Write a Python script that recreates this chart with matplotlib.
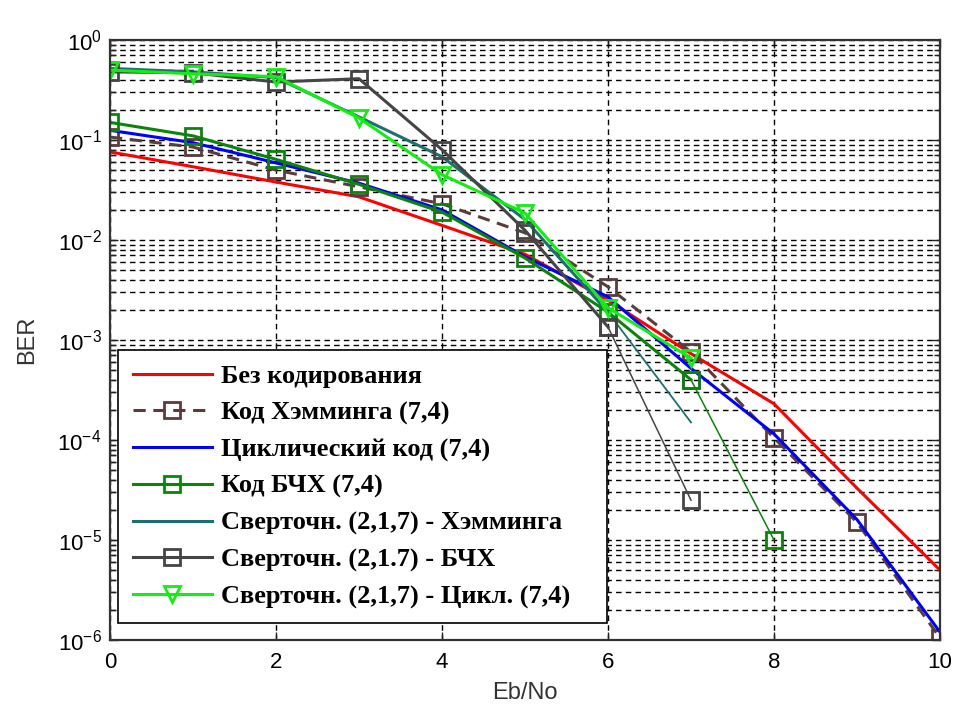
import numpy as np
import matplotlib
matplotlib.use("Agg")
import matplotlib.pyplot as plt
from matplotlib.ticker import LogLocator, FixedLocator, NullFormatter

plt.rcParams['font.family'] = ['Liberation Sans', 'DejaVu Sans']
plt.rcParams['mathtext.fontset'] = 'custom'
plt.rcParams['mathtext.rm'] = 'Liberation Sans'
plt.rcParams['mathtext.it'] = 'Liberation Sans'

# ---- data ----
snr = [0, 1, 2, 3, 4, 5, 6, 7, 8, 9, 10]

ber_uncoded = [0.076, 0.054, 0.038, 0.027, 0.014, 0.0072, 0.0025, 7.3e-4, 2.3e-4, 3.3e-5, 5.0e-6]
ber_hamming = [0.107, 0.085, 0.050, 0.034, 0.023, 0.0118, 0.0034, 7.6e-4, 1.05e-4, 1.5e-5, 1.05e-6]
ber_cyclic = [0.125, 0.094, 0.059, 0.037, 0.020, 0.0068, 0.0027, 5.2e-4, 1.15e-4, 1.6e-5, 1.2e-6]

snr_bch = [0, 1, 2, 3, 4, 5, 6, 7, 8]
ber_bch = [0.150, 0.110, 0.064, 0.036, 0.019, 0.0066, 0.0019, 4.0e-4, 1.0e-5]

snr_conv = [0, 1, 2, 3, 4, 5, 6, 7]
ber_conv_hamming = [0.52, 0.48, 0.42, 0.17, 0.068, 0.016, 0.0019, 1.5e-4]
ber_conv_bch = [0.48, 0.47, 0.38, 0.41, 0.080, 0.0125, 0.00135, 2.5e-5]
ber_conv_cyclic = [0.50, 0.46, 0.43, 0.166, 0.045, 0.0186, 0.0021, 6.6e-4]

labels = ["Без кодирования", "Код Хэмминга (7,4)", "Циклический код (7,4)",
          "Код БЧХ (7,4)", "Сверточн. (2,1,7) - Хэмминга",
          "Сверточн. (2,1.7) - БЧХ", "Сверточн. (2,1,7) - Цикл. (7,4)"]

xticks = [0, 2, 4, 6, 8, 10]
yticks = [1e0, 1e-1, 1e-2, 1e-3, 1e-4, 1e-5, 1e-6]
ytick_labels = ["$10^{0}$", "$10^{-1}$", "$10^{-2}$", "$10^{-3}$", "$10^{-4}$", "$10^{-5}$", "$10^{-6}$"]

# ---- figure ----
fig = plt.figure(figsize=(9.54, 7.09), dpi=100)
ax = fig.add_axes([110/954, 69/709, 830/954, 600/709])

c_red = '#ff0000'
c_brown = '#5a3c3c'
c_blue = '#0000ff'
c_green = '#0a850a'
c_teal = '#1d7070'
c_gray = '#454545'
c_lime = '#11ee11'

lw = 2.2
ms = 11

h1, = ax.semilogy(snr, ber_uncoded, '-', color=c_red, lw=lw, label=labels[0])
h2, = ax.semilogy(snr, ber_hamming, '--', color=c_brown, lw=lw, marker='s', ms=ms,
                  mfc='none', mew=2, dashes=(4, 2.5), label=labels[1])
h3, = ax.semilogy(snr, ber_cyclic, '-', color=c_blue, lw=lw, label=labels[2])

# BCH: thick up to 7 dB, thin tail
h4, = ax.semilogy(snr_bch[:8], ber_bch[:8], '-', color=c_green, lw=lw, marker='s', ms=ms,
                  mfc='none', mew=2, label=labels[3])
ax.semilogy(snr_bch[7:], ber_bch[7:], '-', color=c_green, lw=1.1, marker='s', ms=ms,
            mfc='none', mew=2)

h5, = ax.semilogy(snr_conv[:7], ber_conv_hamming[:7], '-', color=c_teal, lw=lw, label=labels[4])
ax.semilogy(snr_conv[6:], ber_conv_hamming[6:], '-', color=c_teal, lw=1.3)

h6, = ax.semilogy(snr_conv[:7], ber_conv_bch[:7], '-', color=c_gray, lw=lw, marker='s', ms=ms,
                  mfc='none', mew=2, label=labels[5])
ax.semilogy(snr_conv[6:], ber_conv_bch[6:], '-', color=c_gray, lw=1.1, marker='s', ms=ms,
            mfc='none', mew=2)

h7, = ax.semilogy(snr_conv, ber_conv_cyclic, '-', color=c_lime, lw=lw, marker='v', ms=ms,
                  mfc='none', mew=2, label=labels[6])

ax.set_xlim(0, 10)
ax.set_ylim(1e-6, 1e0)
ax.set_xticks(xticks)
ax.set_xticklabels([str(v) for v in xticks])
ax.yaxis.set_major_locator(FixedLocator(yticks))
ax.set_yticklabels(ytick_labels)
ax.yaxis.set_minor_locator(LogLocator(base=10, subs=np.arange(2, 10), numticks=20))
ax.yaxis.set_minor_formatter(NullFormatter())

ax.tick_params(which='both', direction='in', top=True, right=True, labelsize=16, color='#222222')
ax.tick_params(which='major', length=6, width=1)
ax.tick_params(which='minor', length=4, width=1)
ax.tick_params(axis='x', pad=9)
ax.tick_params(axis='y', pad=6)

ax.grid(True, which='major', axis='x', color='black', linestyle=(0, (4, 3)), lw=1.0)
ax.grid(True, which='both', axis='y', color='black', linestyle=(0, (4, 3)), lw=1.0)

for s in ax.spines.values():
    s.set_color('#333333')
    s.set_linewidth(1.6)

ax.set_xlabel('Eb/No', fontsize=17, color='#333333', labelpad=6)
ax.set_ylabel('BER', fontsize=17, color='#333333', labelpad=14)

leg = ax.legend(handles=[h1, h2, h3, h4, h5, h6, h7], loc='upper left',
                bbox_to_anchor=(8/830, 15/600, 489/830, 275/600), mode='expand',
                borderaxespad=0,
                prop={'family': ['Liberation Serif', 'DejaVu Serif'], 'weight': 'bold', 'size': 19},
                numpoints=1, handlelength=3.0, handletextpad=0.35, labelspacing=0.49,
                fancybox=False, framealpha=1, edgecolor='black', borderpad=0.55)
leg.get_frame().set_linewidth(1.2)

fig.savefig('out.png', dpi=100)
